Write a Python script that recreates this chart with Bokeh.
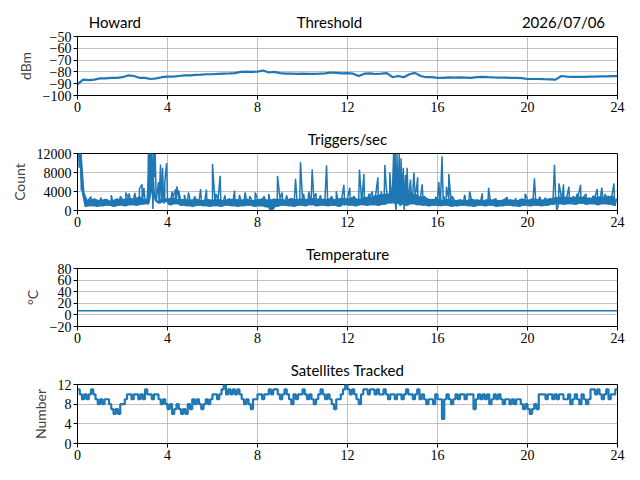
import numpy as np
from bokeh.plotting import figure
from bokeh.layouts import column
from bokeh.models import FixedTicker, LinearAxis
from bokeh.embed import file_html
from bokeh.resources import INLINE

# Threshold (dBm), one value every 15 minutes
thr_dbm = [-90.5, -86.5, -87, -86.5, -85.5, -85.5, -85, -85, -84.5, -83, -83.5, -85,
           -85, -86, -85.5, -84.5, -84, -84, -83.5, -83, -83, -82.5, -82.3, -82,
           -82, -81.7, -81.5, -81.3, -81, -80, -79.8, -80, -79.7, -78.8, -80.5, -80,
           -81, -81.5, -81.5, -81.7, -81.5, -81.6, -81.7, -81.5, -81.2, -80.5, -80.8, -81.3,
           -81, -81.5, -83.5, -81.5, -81.3, -81.8, -81.5, -81, -84.5, -83.5, -84.5, -82,
           -80.8, -83.5, -84.5, -84.5, -85, -85, -84.7, -84.8, -84.6, -84.8, -85, -84.5,
           -84.2, -84.5, -84.7, -84.8, -84.9, -85, -85, -85.3, -86, -86, -86, -86.2,
           -86.3, -86.5, -83.5, -84, -84.3, -84.2, -84.2, -84, -84, -83.8, -83.8, -83.6,
           -83.6]

# Triggers/sec, background level every 7.5 minutes
trig_base = [
    12000, 12000, 3800, 800, 2300, 900, 2500, 800,
    2200, 900, 2400, 1000, 2100, 800, 2500, 1000,
    2400, 900, 2700, 1100, 2600, 1000, 2900, 1200,
    2400, 1300, 12000, 4000, 2000, 1500, 2500, 1800,
    2600, 1100, 2800, 1300, 2500, 1000, 2400, 900,
    2300, 800, 2500, 1000, 2200, 900, 2400, 800,
    2300, 900, 2400, 800, 2200, 1000, 2500, 900,
    2400, 800, 2300, 900, 2500, 1000, 2200, 800,
    2400, 900, 2600, 700, 2300, 0, 2500, 800,
    2500, 1000, 2300, 900, 2600, 800, 2400, 1000,
    2600, 900, 2400, 1100, 2700, 900, 2500, 1000,
    2500, 900, 2600, 1000, 2400, 800, 2700, 1100,
    2600, 1000, 2800, 900, 2500, 1100, 2900, 1000,
    2900, 1100, 3200, 1000, 3400, 1200, 3600, 1500,
    4500, 1500, 5000, 1200, 4800, 1000, 4000, 1300,
    3500, 1100, 3000, 1000, 2600, 900, 2400, 1000,
    2500, 900, 2300, 1000, 2400, 800, 2200, 900,
    2300, 1000, 2200, 900, 2400, 800, 2300, 1000,
    2200, 900, 2400, 1000, 2300, 800, 2200, 900,
    2400, 1000, 2300, 900, 2200, 800, 2500, 1000,
    2300, 900, 2600, 1000, 2400, 900, 2300, 1000,
    2600, 1200, 2800, 1300, 3000, 1200, 2900, 1300,
    2800, 1200, 3000, 1400, 2900, 1200, 2700, 1300,
    2900, 1100, 3000, 1300, 2800, 1200, 3100, 1000,
    1800]

# Short bursts (hour, count)
spike_hr = [0.02, 0.05, 0.08, 0.1, 0.17, 0.2, 0.6, 1.05, 1.5, 1.9, 2.15, 2.3, 2.55, 2.75, 2.87, 2.95,
            3.15, 3.2, 3.22, 3.28, 3.3, 3.35, 3.38, 3.42, 3.45, 3.6, 3.69, 3.72, 3.78, 3.83, 3.88, 3.96,
            4.2, 4.36, 4.42, 4.5, 4.75, 4.93, 5.2, 5.47, 5.73, 6.0, 6.15, 6.34, 6.55, 6.98, 7.2, 7.45,
            7.65, 7.9, 8.3, 8.5, 8.89, 9.1, 9.3, 9.69, 9.91, 10.05, 10.28, 10.43, 10.6, 10.8, 11.07,
            11.3, 11.5, 11.84, 12.1, 12.3, 12.53, 12.6, 12.73, 12.95, 13.1, 13.35, 13.5, 13.66, 13.72,
            13.88, 13.95, 14.05, 14.08, 14.12, 14.16, 14.2, 14.23, 14.3, 14.33, 14.38, 14.42, 14.48,
            14.52, 14.58, 14.65, 14.7, 14.8, 14.84, 14.95, 15.05, 15.12, 15.2, 15.32, 15.4, 15.91,
            16.06, 16.1, 16.2, 16.28, 16.4, 16.5, 16.65, 17.21, 17.43, 17.99, 18.27, 18.6, 19.1,
            19.47, 19.9, 20.31, 20.55, 20.8, 21.2, 21.27, 21.3, 21.4, 21.55, 21.6, 21.7, 21.84, 22.05,
            22.2, 22.36, 22.6, 22.9, 23.1, 23.2, 23.3, 23.45, 23.6, 23.84, 23.95]
spike_ct = [11500, 12000, 9000, 12000, 4200, 5000, 2900, 2700, 3200, 3000, 3800, 3600, 3700, 4500,
            5500, 4800,
            12000, 8000, 12000, 9000, 12000, 300, 12000, 7000, 12000, 6000, 9700, 2500, 9000, 1500,
            6000, 10000,
            4000, 4500, 5100, 4200, 3300, 3800, 3000, 4500, 4400, 9800, 3500, 7300, 3200, 4200, 3300,
            3800, 3000, 3800, 3000, 3500, 7300, 3800, 3200, 6700, 10200, 3500, 4000, 8600, 3600, 3200,
            9500, 3000, 4000, 5400, 4800, 3000, 8600, 4000, 7700, 3500, 4000, 7000, 4000, 9600, 5000,
            8000, 3000, 12000, 2000, 12000, 0, 12000, 3000, 12000, 1000, 11000, 2500, 9000,
            0, 7500, 9000, 2000, 6500, 3000, 8000, 4000, 7000, 2500, 5500, 3000, 2800,
            6000, 2000, 11400, 3000, 5000, 7700, 3000, 3300, 4000, 3600, 4800, 2500, 2800,
            2600, 3500, 6800, 2900, 2700, 9600, 2000, 0, 5700, 3000, 5500, 2500, 5000, 3000,
            3500, 5400, 3500, 3000, 4500, 2000, 4800, 3500, 3000, 5700, 2500]

# Temperature (deg C), hourly
temp_c = [7, 7, 7, 7, 7, 7, 7, 7, 7, 7, 7, 7, 7, 7, 7, 7, 7, 7, 7, 7, 7, 7, 7, 7, 7]

# Satellites tracked, every 6 minutes
sats = [11, 10, 9, 10, 9, 10, 11, 10, 9, 8,
        9, 8, 9, 9, 8, 7, 6, 7, 6, 8,
        8, 9, 10, 10, 9, 10, 10, 9, 10, 9,
        11, 10, 10, 9, 10, 10, 9, 8, 9, 8,
        7, 8, 6, 7, 8, 7, 6, 7, 6, 8,
        7, 9, 8, 9, 8, 7, 8, 9, 8, 9,
        10, 10, 9, 10, 11, 12, 10, 11, 10, 11,
        10, 11, 10, 9, 8, 9, 8, 7, 9, 9,
        10, 10, 9, 10, 10, 11, 10, 11, 11, 10,
        9, 10, 11, 10, 9, 8, 10, 9, 10, 10,
        11, 10, 9, 10, 9, 8, 9, 10, 11, 10,
        9, 10, 9, 8, 7, 9, 9, 10, 11, 12,
        11, 10, 11, 10, 9, 8, 10, 11, 11, 10,
        11, 11, 10, 11, 10, 10, 11, 10, 9, 10,
        10, 9, 10, 10, 9, 10, 11, 10, 10, 9,
        10, 11, 9, 10, 9, 8, 9, 9, 8, 10,
        9, 9, 5, 9, 10, 9, 8, 9, 10, 9,
        10, 10, 9, 10, 10, 10, 7, 9, 10, 9,
        10, 9, 10, 8, 9, 10, 9, 10, 9, 8,
        9, 9, 8, 9, 8, 9, 9, 8, 7, 8,
        7, 6, 7, 8, 7, 10, 10, 10, 9, 10,
        10, 9, 10, 9, 10, 10, 9, 9, 10, 8,
        9, 10, 9, 8, 10, 9, 8, 9, 11, 11,
        10, 11, 10, 9, 10, 11, 9, 10, 10, 11,
        11]

x_ticks = [0, 4, 8, 12, 16, 20, 24]

BLUE = "#1f77b4"
TICK_FONT = "Liberation Serif"
TEXT_FONT = "Lato"


def minus(v):
    return ("\u2212" + str(-v)) if v < 0 else str(v)


def panel(ylab, yticks, titles, fh, top, bottom):
    p = figure(frame_width=540, frame_height=fh, x_range=(0, 24), y_range=(yticks[0], yticks[-1]),
               output_backend="svg", toolbar_location=None, tools="",
               min_border_left=77, min_border_right=15, min_border_top=top, min_border_bottom=bottom)
    p.outline_line_color = "black"
    p.outline_line_width = 1
    for ax in (p.xaxis, p.yaxis):
        ax.axis_line_color = "black"
        ax.major_tick_line_color = "black"
        ax.major_tick_out = 4
        ax.major_tick_in = 0
        ax.minor_tick_line_color = None
        ax.major_label_text_font = TICK_FONT
        ax.major_label_text_font_size = "14px"
        ax.major_label_text_color = "black"
        ax.major_label_standoff = 2
    p.xaxis.ticker = FixedTicker(ticks=x_ticks)
    p.yaxis.ticker = FixedTicker(ticks=yticks)
    p.yaxis.major_label_overrides = {v: minus(v) for v in yticks}
    p.yaxis.axis_label = ylab
    p.yaxis.axis_label_text_font = TEXT_FONT
    p.yaxis.axis_label_text_font_size = "14px"
    p.yaxis.axis_label_text_font_style = "normal"
    p.yaxis.axis_label_standoff = 6
    p.xgrid.ticker = FixedTicker(ticks=x_ticks)
    p.ygrid.ticker = FixedTicker(ticks=yticks)
    p.grid.grid_line_color = "#b0b0b0"
    p.grid.grid_line_width = 0.8

    # titles drawn as labels of a bare axis along the top edge
    top_ax = LinearAxis(ticker=FixedTicker(ticks=[pos for _, pos in titles]),
                        major_label_overrides={pos: txt for txt, pos in titles},
                        axis_line_color=None, major_tick_line_color=None,
                        minor_tick_line_color=None, major_tick_out=0, major_tick_in=0,
                        major_label_standoff=6,
                        major_label_text_font=TEXT_FONT, major_label_text_font_size="15px",
                        major_label_text_color="black")
    p.add_layout(top_ax, "above")
    return p


# Threshold
p1 = panel("dBm", [-100, -90, -80, -70, -60, -50],
           [("Howard", 1.66), ("Threshold", 11.2), ("2026/07/06", 21.6)], 59, 36, 23)
p1.line(np.arange(len(thr_dbm)) / 4, thr_dbm, line_color=BLUE, line_width=2.2)

# Triggers/sec
base_hr = np.arange(len(trig_base)) / 8
lo = np.minimum(trig_base[:-1], trig_base[1:])
hi = np.maximum(trig_base[:-1], trig_base[1:])
t_all = list(base_hr) + spike_hr
c_all = trig_base + spike_ct
order = np.argsort(t_all, kind="stable")
p2 = panel("Count", [0, 4000, 8000, 12000], [("Triggers/sec", 12)], 57, 35, 23)
p2.varea(x=base_hr[:-1] + 1 / 16, y1=lo, y2=hi, fill_color=BLUE, fill_alpha=1.0)
p2.line(np.array(t_all)[order], np.array(c_all)[order], line_color=BLUE, line_width=1.5)

# Temperature
p3 = panel("\u00b0C", [-20, 0, 20, 40, 60, 80], [("Temperature", 12)], 58, 35, 23)
p3.line(np.arange(len(temp_c)), temp_c, line_color=BLUE, line_width=1.5)

# Satellites
p4 = panel("Number", [0, 4, 8, 12], [("Satellites Tracked", 12)], 59, 35, 29)
p4.step(np.arange(len(sats)) / 10, sats, mode="after", line_color=BLUE, line_width=2.2)

layout = column(p1, p2, p3, p4, spacing=0)
open("out.html", "w").write(file_html(layout, INLINE))
